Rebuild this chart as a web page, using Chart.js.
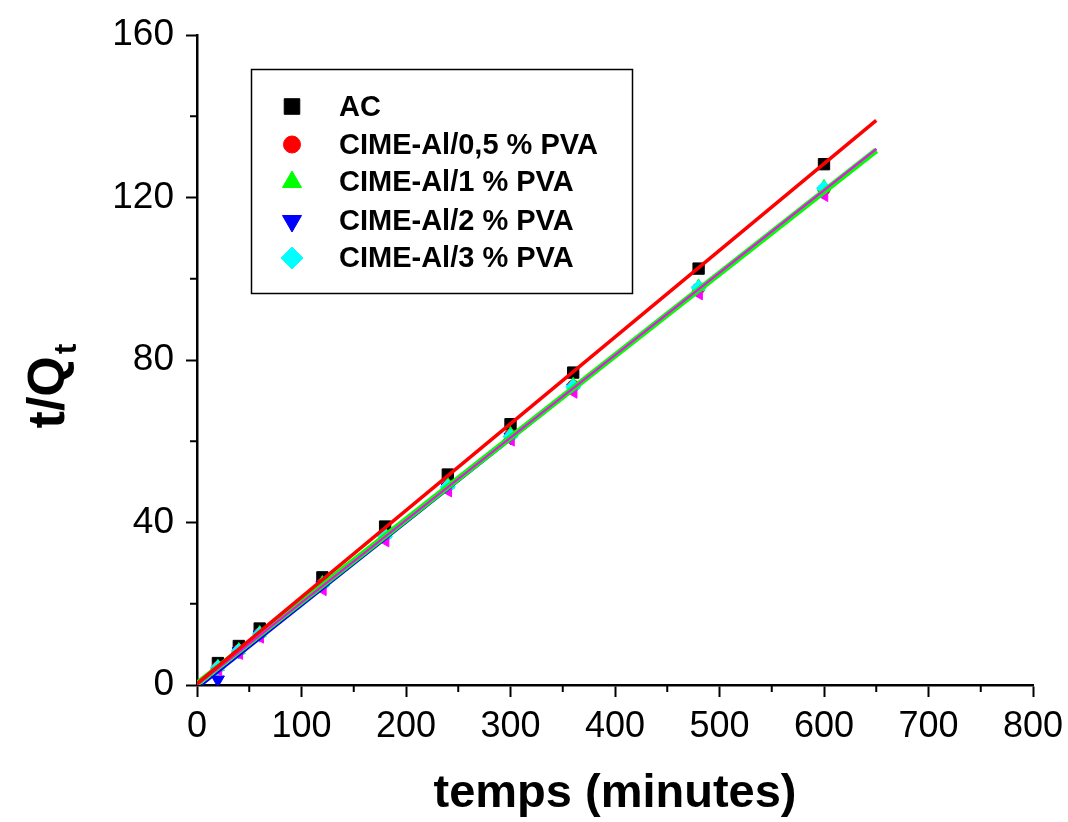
<!DOCTYPE html>
<html>
<head>
<meta charset="utf-8">
<script src="https://cdn.jsdelivr.net/npm/chart.js@4/dist/chart.umd.min.js"></script>
<style>
  html, body { margin: 0; padding: 0; background: #fff; }
  #wrap { width: 1068px; height: 822px; }
</style>
</head>
<body>
<div id="wrap"><canvas id="kineticChart"></canvas></div>
<script>
// temps (minutes)
const TIMES = [20, 40, 60, 120, 180, 240, 300, 360, 480, 600];

// t/Qt for each sample
const AC_VALUES = [5.4, 9.6, 13.9, 26.5, 39.0, 51.8, 64.2, 76.9, 102.5, 128.2];
const PVA_05_VALUES = [4.4, 8.5, 12.6, 24.8, 36.8, 49.0, 61.5, 73.6, 97.6, 122.0];
const PVA_1_VALUES = [4.5, 8.6, 12.8, 25.1, 37.1, 49.3, 61.8, 73.9, 98.1, 122.6];
const PVA_2_VALUES = [1.3, 8.3, 12.4, 24.5, 36.5, 48.6, 61.0, 73.1, 97.2, 121.5];
const PVA_3_VALUES = [4.3, 8.4, 12.5, 24.6, 36.6, 48.8, 61.2, 73.4, 97.8, 122.3];
const EXTRA_VALUES = [3.9, 7.9, 11.9, 23.6, 35.6, 47.9, 60.4, 72.2, 96.4, 120.6];

// linear fits, drawn from t = 0 to t = 650
const FIT_X = [0, 650];
const FIT_RED = [0.3, 139.0];
const FIT_GREEN = [0.3, 131.6];
const FIT_MAGENTA = [0.0, 131.9];
const FIT_BLUE = [-1.0, 131.9];

const LABELS = ['AC', 'CIME-Al/0,5 % PVA', 'CIME-Al/1 % PVA', 'CIME-Al/2 % PVA', 'CIME-Al/3 % PVA'];

const X_TICKS_MAX = 800;
const Y_TICKS_MAX = 160;

function pts(xs, ys) {
    return xs.map((x, i) => ({ x: x, y: ys[i] }));
}

function markerSet(label, values, color, style, rotation, radius, order) {
    return {
        label: label,
        data: pts(TIMES, values),
        showLine: false,
        pointStyle: style,
        rotation: rotation,
        pointRadius: radius,
        pointBackgroundColor: color,
        pointBorderColor: color,
        pointBorderWidth: 1,
        order: order
    };
}

function fitSet(values, color, width, order) {
    return {
        label: '',
        data: pts(FIT_X, values),
        showLine: true,
        borderColor: color,
        borderWidth: width,
        pointRadius: 0,
        fill: false,
        order: order
    };
}

const datasets = [
    markerSet(LABELS[0], AC_VALUES, '#000000', 'rect', 0, 8, 15),
    markerSet(LABELS[1], PVA_05_VALUES, '#ff0000', 'circle', 0, 6, 14),
    markerSet(LABELS[2], PVA_1_VALUES, '#00ff00', 'triangle', 0, 7.5, 13),
    markerSet(LABELS[3], PVA_2_VALUES, '#0000ff', 'triangle', 180, 7.5, 12),
    markerSet(LABELS[4], PVA_3_VALUES, '#00ffff', 'rectRot', 0, 7.5, 11),
    markerSet('', EXTRA_VALUES, '#ff00ff', 'triangle', -90, 7.5, 10),
    fitSet(FIT_BLUE, '#0000ff', 2, 4),
    fitSet(FIT_GREEN, '#00ff00', 6, 3),
    fitSet(FIT_MAGENTA, '#ff00ff', 2, 2),
    fitSet(FIT_RED, '#ff0000', 3.5, 1)
];

// minor ticks, boxed legend and the t/Qt title
const extrasPlugin = {
    id: 'extras',
    afterDraw(chart) {
        const ctx = chart.ctx;
        const xs = chart.scales.x;
        const ys = chart.scales.y;
        const area = chart.chartArea;
        ctx.save();
        ctx.strokeStyle = '#000';
        ctx.lineWidth = 2;
        // minor ticks
        for (let v = 50; v < X_TICKS_MAX; v += 100) {
            const px = xs.getPixelForValue(v);
            ctx.beginPath();
            ctx.moveTo(px, area.bottom);
            ctx.lineTo(px, area.bottom + 7);
            ctx.stroke();
        }
        for (let v = 20; v < Y_TICKS_MAX; v += 40) {
            const py = ys.getPixelForValue(v);
            ctx.beginPath();
            ctx.moveTo(area.left, py);
            ctx.lineTo(area.left - 7, py);
            ctx.stroke();
        }

        // legend box
        ctx.lineWidth = 1.5;
        ctx.strokeRect(251.5, 69.5, 381, 224);
        const rows = [106.5, 144.5, 182, 221, 258];
        ctx.font = 'bold 29px "Liberation Sans", Arial, sans-serif';
        ctx.textBaseline = 'middle';
        ctx.textAlign = 'left';
        for (let i = 0; i < LABELS.length; i++) {
            const ds = chart.data.datasets[i];
            ctx.fillStyle = ds.pointBackgroundColor;
            ctx.strokeStyle = ds.pointBorderColor;
            ctx.lineWidth = 1;
            const r = [11, 8.5, 11, 11, 11][i];
            Chart.helpers.drawPoint(ctx, { pointStyle: ds.pointStyle, rotation: ds.rotation, radius: r, borderWidth: 1 }, 292, rows[i]);
            ctx.fillStyle = '#000';
            ctx.fillText(LABELS[i], 339, rows[i] + 1);
        }

        // y title t/Qt
        ctx.translate(46, 387);
        ctx.rotate(-Math.PI / 2);
        ctx.fillStyle = '#000';
        ctx.textBaseline = 'alphabetic';
        ctx.font = 'bold 52px "Liberation Sans", Arial, sans-serif';
        const main = 't/Q';
        const w = ctx.measureText(main).width;
        ctx.font = 'bold 32px "Liberation Sans", Arial, sans-serif';
        const ws = ctx.measureText('t').width;
        const x0 = -(w + ws) / 2;
        ctx.font = 'bold 52px "Liberation Sans", Arial, sans-serif';
        ctx.fillText(main, x0, 18);
        ctx.font = 'bold 32px "Liberation Sans", Arial, sans-serif';
        ctx.fillText('t', x0 + w + 2, 30);
        ctx.restore();
    }
};

const configKinetic = {
    type: 'scatter',
    data: { datasets: datasets },
    options: {
        responsive: true,
        maintainAspectRatio: false,
        animation: false,
        layout: { padding: { top: 35, right: 35, left: 0, bottom: 0 } },
        plugins: {
            legend: { display: false },
            tooltip: { enabled: false }
        },
        scales: {
            x: {
                type: 'linear',
                min: 0,
                max: X_TICKS_MAX,
                border: { display: true, color: '#000', width: 2.5 },
                grid: { drawOnChartArea: false, drawTicks: true, tickLength: 12, tickWidth: 2, tickColor: '#000' },
                ticks: {
                    stepSize: 100,
                    color: '#000',
                    padding: 8,
                    maxRotation: 0,
                    font: { family: '"Liberation Sans Narrow", "Liberation Sans", Arial, sans-serif', size: 36 }
                },
                title: {
                    display: true,
                    text: 'temps (minutes)',
                    color: '#000',
                    padding: { top: 14, bottom: 0 },
                    font: { family: '"Liberation Sans", Arial, sans-serif', size: 47, weight: 'bold' }
                },
                afterFit(scale) {
                    scale.height = 137;
                    scale.paddingLeft = 0;
                    scale.paddingRight = 0;
                }
            },
            y: {
                type: 'linear',
                min: 0,
                max: Y_TICKS_MAX,
                border: { display: true, color: '#000', width: 2.5 },
                grid: { drawOnChartArea: false, drawTicks: true, tickLength: 11, tickWidth: 2, tickColor: '#000' },
                ticks: {
                    stepSize: 40,
                    color: '#000',
                    padding: 12,
                    font: { family: '"Liberation Sans", Arial, sans-serif', size: 37 }
                },
                afterFit(scale) { scale.width = 197; }
            }
        }
    },
    plugins: [extrasPlugin]
};

var kineticChart = new Chart(
    document.getElementById('kineticChart'),
    configKinetic
);
</script>
</body>
</html>
